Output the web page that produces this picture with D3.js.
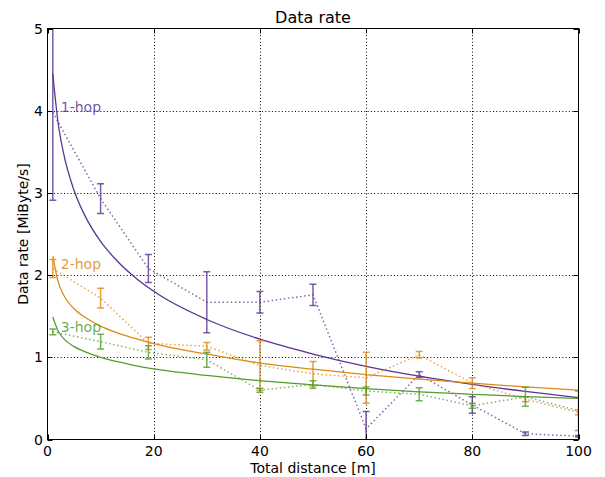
<!DOCTYPE html>
<html><head><meta charset="utf-8">
<script src="https://cdn.jsdelivr.net/npm/d3@7/dist/d3.min.js"></script>
<style>body{margin:0;background:#fff} svg{display:block} text{font-family:"DejaVu Sans",sans-serif}</style>
</head><body><svg id="c" width="605" height="477"></svg>
<script>
// ---- data ----
const distances = [1, 10, 19, 30, 40, 50, 60, 70, 80, 90, 100];
const hop1Mean = [3.98, 2.93, 2.08, 1.67, 1.67, 1.76, 0.13, 0.79, 0.42, 0.07, 0.04];
const hop1Err  = [1.07, 0.18, 0.17, 0.37, 0.13, 0.13, 0.21, 0.035, 0.10, 0.02, 0.01];
const hop2Mean = [2.08, 1.72, 1.17, 1.135, 0.90, 0.80, 0.75, 1.03, 0.685, 0.49, 0.33];
const hop2Err  = [0.11, 0.12, 0.075, 0.045, 0.30, 0.15, 0.31, 0.04, 0.065, 0.03, 0.03];
const hop3Mean = [1.31, 1.19, 1.06, 0.97, 0.60, 0.67, 0.59, 0.55, 0.41, 0.52, 0.35];
const hop3Err  = [0.035, 0.09, 0.08, 0.09, 0.025, 0.045, 0.05, 0.08, 0.03, 0.115, 0.24];
const fitX    = [1, 2, 3, 5, 7, 10, 13, 16.5, 21, 30, 40, 50, 60, 70, 80, 90, 100];
const hop1Fit = [4.45, 3.85, 3.49, 3.03, 2.73, 2.41, 2.18, 1.97, 1.76, 1.46, 1.22, 1.04, 0.89, 0.77, 0.67, 0.585, 0.51];
const hop2Fit = [2.23, 1.92, 1.76, 1.59, 1.49, 1.38, 1.30, 1.23, 1.15, 1.04, 0.93, 0.855, 0.79, 0.735, 0.685, 0.64, 0.60];
const hop3Fit = [1.49, 1.32, 1.23, 1.13, 1.07, 1.00, 0.95, 0.90, 0.85, 0.78, 0.715, 0.665, 0.62, 0.58, 0.55, 0.522, 0.50];
const seriesNames = ["1-hop", "2-hop", "3-hop"];
const xTicks = [0, 20, 40, 60, 80, 100];
const yTicks = [0, 1, 2, 3, 4, 5];
const titleText = "Data rate";
const xLabel = "Total distance [m]";
const yLabel = "Data rate [MiByte/s]";

// ---- chart ----
const colors = ["#5a3592", "#dc8a12", "#529d2c"];
const series = [
  {name: seriesNames[0], mean: hop1Mean, err: hop1Err, fit: hop1Fit},
  {name: seriesNames[1], mean: hop2Mean, err: hop2Err, fit: hop2Fit},
  {name: seriesNames[2], mean: hop3Mean, err: hop3Err, fit: hop3Fit}
];
const L = 47.5, R = 578.5, T = 28.5, B = 439.5;
const x = d3.scaleLinear().domain([0, 100]).range([L, R]);
const y = d3.scaleLinear().domain([0, 5]).range([B, T]);
const svg = d3.select("#c");
svg.append("defs").append("clipPath").attr("id", "clip")
  .append("rect").attr("x", L).attr("y", T).attr("width", R - L).attr("height", B - T);

// grid
const grid = svg.append("g");
grid.selectAll("line.gx").data(xTicks.slice(1, -1)).join("line")
  .attr("x1", d => Math.round(x(d)) + 0.5).attr("x2", d => Math.round(x(d)) + 0.5)
  .attr("y1", T).attr("y2", B).attr("stroke", "#000").attr("stroke-width", 1).attr("stroke-dasharray", "1,2.3");
grid.selectAll("line.gy").data(yTicks.slice(1, -1)).join("line")
  .attr("y1", d => Math.round(y(d)) + 0.5).attr("y2", d => Math.round(y(d)) + 0.5)
  .attr("x1", L).attr("x2", R).attr("stroke", "#000").attr("stroke-width", 1).attr("stroke-dasharray", "1,2.3");

const plot = svg.append("g").attr("clip-path", "url(#clip)");
const line = d3.line().x(d => x(d[0])).y(d => y(d[1]));
const fitLine = d3.line().x(d => x(d[0])).y(d => y(d[1])).curve(d3.curveMonotoneX);

series.forEach((s, i) => {
  const c = colors[i];
  const g = plot.append("g");
  g.append("path").datum(distances.map((d, k) => [d, s.mean[k]]))
    .attr("d", line).attr("fill", "none").attr("stroke", c).attr("stroke-opacity", 0.75)
    .attr("stroke-width", 1.5).attr("stroke-dasharray", "1.5,2.6");
  const eb = g.append("g").attr("stroke", c).attr("stroke-opacity", 0.8).attr("stroke-width", 1.5);
  distances.forEach((d, k) => {
    const xp = x(d), y1 = y(s.mean[k] + s.err[k]), y2 = y(s.mean[k] - s.err[k]);
    eb.append("line").attr("x1", xp).attr("x2", xp).attr("y1", y1).attr("y2", y2);
    eb.append("line").attr("x1", xp - 3.5).attr("x2", xp + 3.5).attr("y1", y1).attr("y2", y1);
    eb.append("line").attr("x1", xp - 3.5).attr("x2", xp + 3.5).attr("y1", y2).attr("y2", y2);
  });
  g.append("path").datum(fitX.map((d, k) => [d, s.fit[k]]))
    .attr("d", fitLine).attr("fill", "none").attr("stroke", c).attr("stroke-width", 1.3);
  svg.append("text").attr("x", x(2.5)).attr("y", y(s.mean[0]) - 5)
    .attr("dominant-baseline", "central").attr("font-size", 14)
    .attr("fill", c).attr("fill-opacity", 0.85).text(s.name);
});

// frame
svg.append("rect").attr("x", L).attr("y", T).attr("width", R - L).attr("height", B - T)
  .attr("fill", "none").attr("stroke", "#000").attr("stroke-width", 1);
const tk = svg.append("g").attr("stroke", "#000").attr("stroke-width", 1);
xTicks.forEach(d => {
  const xp = Math.round(x(d)) + 0.5;
  tk.append("line").attr("x1", xp).attr("x2", xp).attr("y1", B).attr("y2", B - 5);
  tk.append("line").attr("x1", xp).attr("x2", xp).attr("y1", T).attr("y2", T + 5);
});
yTicks.forEach(d => {
  const yp = Math.round(y(d)) + 0.5;
  tk.append("line").attr("y1", yp).attr("y2", yp).attr("x1", L).attr("x2", L + 5);
  tk.append("line").attr("y1", yp).attr("y2", yp).attr("x1", R).attr("x2", R - 5);
});
svg.append("g").selectAll("text").data(xTicks).join("text")
  .attr("x", d => x(d)).attr("y", 456).attr("text-anchor", "middle")
  .attr("font-size", 14).attr("fill", "#000").text(d => d);
svg.append("g").selectAll("text").data(yTicks).join("text")
  .attr("x", 43).attr("y", d => y(d)).attr("text-anchor", "end").attr("dominant-baseline", "central")
  .attr("font-size", 14).attr("fill", "#000").text(d => d);
svg.append("text").attr("x", (L + R) / 2).attr("y", 23).attr("text-anchor", "middle")
  .attr("font-size", 16).attr("fill", "#000").text(titleText);
svg.append("text").attr("x", (L + R) / 2).attr("y", 472.5).attr("text-anchor", "middle")
  .attr("font-size", 14).attr("fill", "#000").text(xLabel);
svg.append("text").attr("transform", `translate(27.5,${(T + B) / 2}) rotate(-90)`)
  .attr("text-anchor", "middle").attr("font-size", 14).attr("fill", "#000").text(yLabel);
</script></body></html>
